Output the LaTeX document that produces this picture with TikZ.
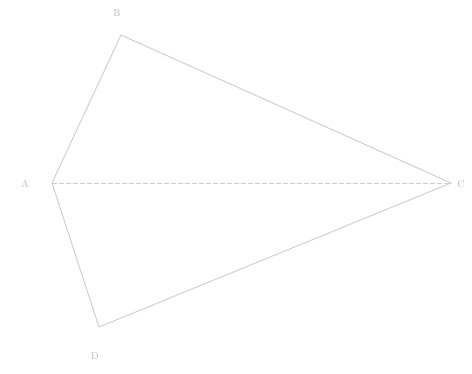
\documentclass[tikz,border=0pt]{standalone}
\begin{document}
\begin{tikzpicture}[x=1pt,y=-1pt,
  side/.style={draw=black!20, line width=0.9pt},
  diag/.style={draw=black!20, line width=0.9pt, dash pattern=on 5pt off 2pt},
  lbl/.style={text=black!28, font=\normalsize, inner sep=0pt}]
\useasboundingbox (0,0) rectangle (472,374);
\coordinate (A) at (52,183);
\coordinate (B) at (121,35);
\coordinate (C) at (451,183);
\coordinate (D) at (99,327);
\node[lbl] (la) at (25,184) {A};
\node[lbl] (lb) at (117,13) {B};
\node[lbl] (lc) at (461,184) {C};
\node[lbl] (ld) at (95,356) {D};
\draw[side] (A) -- (B) -- (C) -- (D) -- cycle;
\draw[diag] (A) -- (C);
\end{tikzpicture}
\end{document}
